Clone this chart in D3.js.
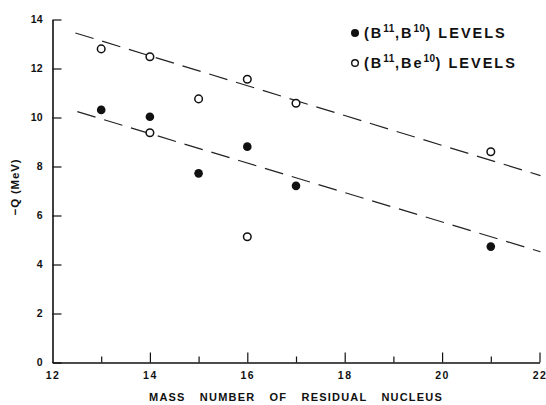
<!DOCTYPE html>
<html>
<head>
<meta charset="utf-8">
<script src="https://cdn.jsdelivr.net/npm/d3@7"></script>
<style>
  html, body { margin: 0; padding: 0; background: #fff; }
  svg { display: block; }
  text { font-family: "Liberation Sans", Arial, sans-serif; font-weight: bold; fill: #111; }
</style>
</head>
<body>
<svg id="chart" width="546" height="405"></svg>
<script>
// ---- data ----
const xMajorTicks = [12, 14, 16, 18, 20, 22];
const xMinorTicks = [13, 15, 17, 19, 21];
const yTicks = [0, 2, 4, 6, 8, 10, 12, 14];

// (B11,B10) levels — filled circles
const filledX = [13, 14, 15, 16, 17, 21];
const filledY = [10.31, 10.03, 7.72, 8.81, 7.21, 4.73];

// (B11,Be10) levels — open circles
const openX = [13, 14, 14, 15, 16, 16, 17, 21];
const openY = [12.8, 12.48, 9.38, 10.76, 11.56, 5.13, 10.58, 8.6];

// dashed trend lines (data-space endpoints)
const upperLineX = [12.47, 22.02];
const upperLineY = [13.45, 7.63];
const lowerLineX = [12.51, 22.02];
const lowerLineY = [10.24, 4.52];

const xLabel = "MASS NUMBER OF RESIDUAL NUCLEUS";
const yLabel = "\u2212Q (MeV)";

// ---- drawing ----
const svg = d3.select("#chart");
const x = d3.scaleLinear().domain([12, 22]).range([52.5, 539.5]);
const y = d3.scaleLinear().domain([0, 14]).range([362.5, 19.5]);

// y axis
const yAxis = svg.append("g")
  .attr("transform", `translate(${x(12)},0)`)
  .call(d3.axisLeft(y).tickValues(yTicks).tickFormat(d3.format("d"))
        .tickSizeInner(-9).tickSizeOuter(0).tickPadding(10));
yAxis.select(".domain").attr("stroke", "#111").attr("stroke-width", 1.6);
yAxis.selectAll(".tick line").attr("stroke", "#111").attr("stroke-width", 1.2);
yAxis.selectAll(".tick text").style("font-size", "10.5px").attr("font-family", null).attr("fill", "#111");

// x axis major
const xAxis = svg.append("g")
  .attr("transform", `translate(0,${y(0)})`)
  .call(d3.axisBottom(x).tickValues(xMajorTicks).tickFormat(d3.format("d"))
        .tickSizeInner(-10).tickSizeOuter(0).tickPadding(9));
xAxis.select(".domain").attr("stroke", "#111").attr("stroke-width", 1.6);
xAxis.selectAll(".tick line").attr("stroke", "#111").attr("stroke-width", 1.2);
xAxis.selectAll(".tick text").style("font-size", "10.5px").attr("font-family", null).attr("fill", "#111")
  .style("letter-spacing", "1.5px");
xAxis.selectAll(".tick").filter(d => d === 12).select("line").remove();

// x axis minor
const xMinor = svg.append("g")
  .attr("transform", `translate(0,${y(0)})`)
  .call(d3.axisBottom(x).tickValues(xMinorTicks).tickFormat("")
        .tickSizeInner(-6).tickSizeOuter(0));
xMinor.select(".domain").remove();
xMinor.selectAll(".tick line").attr("stroke", "#111").attr("stroke-width", 1.2);

// dashed lines
const line = d3.line().x(d => x(d[0])).y(d => y(d[1]));
[[upperLineX, upperLineY], [lowerLineX, lowerLineY]].forEach(([lx, ly]) => {
  svg.append("path")
    .attr("d", line(lx.map((v, i) => [v, ly[i]])))
    .attr("fill", "none").attr("stroke", "#222").attr("stroke-width", 1.2)
    .attr("stroke-dasharray", "19,9");
});

// points
svg.append("g").selectAll("circle").data(openX.map((v, i) => [v, openY[i]]))
  .join("circle")
  .attr("cx", d => x(d[0])).attr("cy", d => y(d[1])).attr("r", 3.8)
  .attr("fill", "#fff").attr("stroke", "#111").attr("stroke-width", 1.5);
svg.append("g").selectAll("circle").data(filledX.map((v, i) => [v, filledY[i]]))
  .join("circle")
  .attr("cx", d => x(d[0])).attr("cy", d => y(d[1])).attr("r", 4.3)
  .attr("fill", "#111");

// axis titles
svg.append("text")
  .attr("x", 296).attr("y", 401)
  .attr("text-anchor", "middle")
  .style("font-size", "11px").style("letter-spacing", "1.2px").style("word-spacing", "10px")
  .text(xLabel);

svg.append("text")
  .attr("transform", "translate(19,187) rotate(-90)")
  .attr("text-anchor", "middle")
  .style("font-size", "11.5px").style("letter-spacing", "0.8px")
  .text(yLabel);

// legend
const legend = [
  { filled: true, base: "B", sup1: "11", mid: ",B", sup2: "10", cy: 33 },
  { filled: false, base: "B", sup1: "11", mid: ",Be", sup2: "10", cy: 63 }
];
legend.forEach(l => {
  svg.append("circle").attr("cx", 355).attr("cy", l.cy).attr("r", l.filled ? 4 : 3.3)
    .attr("fill", l.filled ? "#111" : "#fff").attr("stroke", "#111").attr("stroke-width", l.filled ? 0 : 1.4);
  const t = svg.append("text").attr("x", 364).attr("y", l.cy + 5)
    .style("font-size", "14.5px").style("letter-spacing", "2px");
  t.append("tspan").text("(" + l.base);
  t.append("tspan").attr("dy", -6).style("font-size", "10px").style("letter-spacing", "0.5px").text(l.sup1);
  t.append("tspan").attr("dy", 6).text(l.mid);
  t.append("tspan").attr("dy", -6).style("font-size", "10px").style("letter-spacing", "0.5px").text(l.sup2);
  t.append("tspan").attr("dy", 6).text(") LEVELS");
});
</script>
</body>
</html>
